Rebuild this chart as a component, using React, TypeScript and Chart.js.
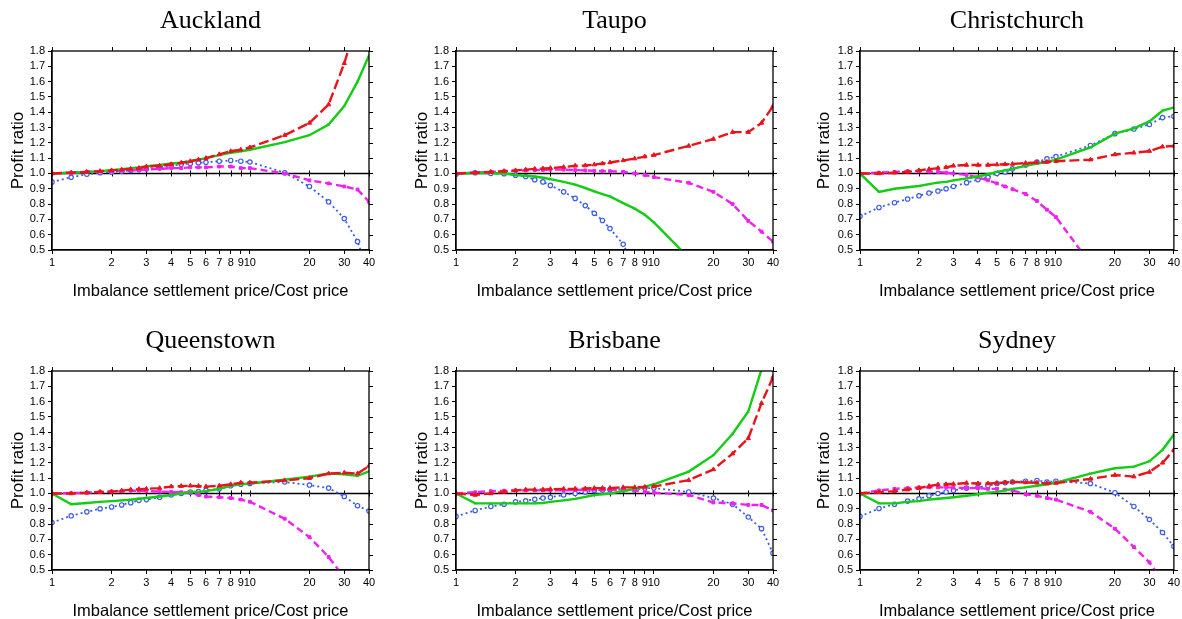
import React, { useEffect, useRef } from 'react';
import { Chart, registerables } from 'chart.js';
Chart.register(...registerables);

const xValues = [1, 1.25, 1.5, 1.75, 2, 2.25, 2.5, 2.75, 3, 3.5, 4, 4.5, 5, 5.5, 6, 7, 8, 9, 10, 15, 20, 25, 30, 35, 40];
const xTickValues = [1, 2, 3, 4, 5, 6, 7, 8, 9, 10, 20, 30, 40];
const yTickValues = [0.5, 0.6, 0.7, 0.8, 0.9, 1.0, 1.1, 1.2, 1.3, 1.4, 1.5, 1.6, 1.7, 1.8];
const cityNames = ['Auckland', 'Taupo', 'Christchurch', 'Queenstown', 'Brisbane', 'Sydney'];
const xAxisTitle = 'Imbalance settlement price/Cost price';
const yAxisTitle = 'Profit ratio';

const aucklandRed = [1.0, 1.005, 1.01, 1.015, 1.02, 1.025, 1.03, 1.035, 1.045, 1.05, 1.06, 1.07, 1.08, 1.09, 1.1, 1.125, 1.145, 1.155, 1.17, 1.25, 1.33, 1.45, 1.72, 2.0, null];
const aucklandGreen = [1.0, 1.005, 1.01, 1.015, 1.022, 1.028, 1.035, 1.04, 1.048, 1.055, 1.065, 1.07, 1.08, 1.09, 1.1, 1.12, 1.135, 1.145, 1.155, 1.205, 1.25, 1.32, 1.44, 1.6, 1.77];
const aucklandMagenta = [1.0, 1.005, 1.01, 1.012, 1.015, 1.018, 1.02, 1.022, 1.025, 1.03, 1.035, 1.035, 1.04, 1.04, 1.04, 1.045, 1.045, 1.035, 1.035, 1.0, 0.955, 0.935, 0.915, 0.895, 0.815];
const aucklandBlue = [0.945, 0.975, 0.995, 1.005, 1.01, 1.015, 1.02, 1.025, 1.03, 1.04, 1.05, 1.06, 1.065, 1.07, 1.073, 1.08, 1.085, 1.08, 1.075, 1.005, 0.915, 0.815, 0.705, 0.555, 0.35];

const taupoRed = [1.0, 1.005, 1.01, 1.015, 1.02, 1.025, 1.03, 1.032, 1.035, 1.042, 1.05, 1.052, 1.058, 1.065, 1.072, 1.085, 1.097, 1.11, 1.12, 1.18, 1.225, 1.27, 1.27, 1.33, 1.44];
const taupoGreen = [1.0, 1.003, 1.003, 1.0, 0.99, 0.985, 0.98, 0.972, 0.963, 0.945, 0.927, 0.905, 0.883, 0.865, 0.85, 0.806, 0.77, 0.73, 0.68, 0.45, null, null, null, null, null];
const taupoMagenta = [1.0, 1.005, 1.01, 1.015, 1.018, 1.02, 1.022, 1.023, 1.025, 1.025, 1.022, 1.02, 1.017, 1.015, 1.015, 1.01, 1.0, 0.99, 0.976, 0.939, 0.88, 0.8, 0.69, 0.62, 0.555];
const taupoBlue = [0.995, 1.005, 1.0, 0.998, 0.989, 0.98, 0.959, 0.945, 0.922, 0.88, 0.837, 0.79, 0.74, 0.693, 0.64, 0.537, 0.38, null, null, null, null, null, null, null, null];

const christchurchRed = [1.0, 1.0, 1.005, 1.01, 1.02, 1.028, 1.035, 1.04, 1.05, 1.055, 1.055, 1.055, 1.058, 1.06, 1.062, 1.068, 1.072, 1.075, 1.08, 1.09, 1.124, 1.135, 1.146, 1.175, 1.18];
const christchurchGreen = [1.0, 0.88, 0.9, 0.91, 0.918, 0.93, 0.94, 0.945, 0.955, 0.968, 0.98, 0.995, 1.01, 1.02, 1.03, 1.05, 1.065, 1.075, 1.09, 1.17, 1.26, 1.295, 1.34, 1.41, 1.43];
const christchurchMagenta = [1.0, 1.005, 1.01, 1.015, 1.015, 1.012, 1.01, 1.005, 1.0, 0.99, 0.975, 0.955, 0.935, 0.915, 0.897, 0.866, 0.82, 0.763, 0.715, 0.41, null, null, null, null, null];
const christchurchBlue = [0.72, 0.778, 0.809, 0.833, 0.854, 0.872, 0.885, 0.9, 0.915, 0.94, 0.96, 0.975, 1.0, 1.01, 1.03, 1.055, 1.075, 1.095, 1.11, 1.183, 1.26, 1.29, 1.32, 1.365, 1.374];

const queenstownRed = [1.0, 1.0, 1.005, 1.01, 1.012, 1.018, 1.025, 1.028, 1.03, 1.035, 1.045, 1.048, 1.05, 1.048, 1.045, 1.05, 1.06, 1.07, 1.07, 1.085, 1.1, 1.13, 1.135, 1.13, 1.18];
const queenstownGreen = [1.0, 0.93, 0.938, 0.945, 0.95, 0.955, 0.96, 0.965, 0.97, 0.98, 0.99, 1.0, 1.01, 1.01, 1.015, 1.03, 1.05, 1.06, 1.065, 1.09, 1.11, 1.13, 1.125, 1.115, 1.145];
const queenstownMagenta = [1.0, 1.002, 1.005, 1.01, 1.012, 1.015, 1.018, 1.018, 1.015, 1.012, 1.01, 1.008, 1.005, 0.99, 0.98, 0.975, 0.97, 0.96, 0.946, 0.835, 0.715, 0.585, 0.45, null, null];
const queenstownBlue = [0.81, 0.854, 0.88, 0.9, 0.912, 0.925, 0.94, 0.955, 0.96, 0.975, 0.99, 1.0, 1.01, 1.012, 1.02, 1.03, 1.05, 1.06, 1.065, 1.075, 1.055, 1.035, 0.98, 0.92, 0.885];

const brisbaneRed = [1.0, 0.99, 1.0, 1.01, 1.02, 1.025, 1.025, 1.025, 1.028, 1.03, 1.03, 1.032, 1.035, 1.035, 1.035, 1.04, 1.04, 1.042, 1.045, 1.087, 1.157, 1.26, 1.36, 1.59, 1.76];
const brisbaneGreen = [1.0, 0.935, 0.935, 0.935, 0.935, 0.935, 0.935, 0.938, 0.945, 0.955, 0.965, 0.978, 0.99, 0.995, 1.0, 1.015, 1.03, 1.045, 1.06, 1.143, 1.25, 1.39, 1.535, 1.81, null];
const brisbaneMagenta = [1.0, 1.008, 1.015, 1.018, 1.02, 1.02, 1.02, 1.02, 1.02, 1.02, 1.022, 1.025, 1.025, 1.025, 1.025, 1.02, 1.02, 1.01, 1.005, 0.99, 0.941, 0.935, 0.925, 0.925, 0.89];
const brisbaneBlue = [0.85, 0.889, 0.915, 0.93, 0.945, 0.952, 0.962, 0.97, 0.975, 0.99, 1.0, 1.01, 1.02, 1.022, 1.025, 1.025, 1.025, 1.035, 1.035, 1.01, 0.97, 0.93, 0.846, 0.77, 0.61];

const sydneyRed = [1.0, 1.008, 1.015, 1.025, 1.035, 1.048, 1.058, 1.06, 1.062, 1.068, 1.065, 1.065, 1.068, 1.072, 1.075, 1.072, 1.07, 1.065, 1.068, 1.095, 1.12, 1.11, 1.14, 1.2, 1.285];
const sydneyGreen = [1.0, 0.935, 0.935, 0.945, 0.95, 0.96, 0.965, 0.97, 0.975, 0.985, 0.995, 1.005, 1.01, 1.02, 1.03, 1.04, 1.05, 1.06, 1.07, 1.13, 1.165, 1.175, 1.21, 1.285, 1.385];
const sydneyMagenta = [1.0, 1.02, 1.03, 1.035, 1.04, 1.04, 1.04, 1.04, 1.038, 1.035, 1.035, 1.03, 1.03, 1.025, 1.02, 0.995, 0.985, 0.97, 0.96, 0.88, 0.77, 0.65, 0.55, 0.43, null];
const sydneyBlue = [0.85, 0.902, 0.93, 0.95, 0.965, 0.985, 1.0, 1.01, 1.02, 1.035, 1.04, 1.05, 1.065, 1.07, 1.075, 1.08, 1.085, 1.075, 1.08, 1.065, 1.005, 0.915, 0.83, 0.745, 0.655];

const citySeries = [
  [aucklandRed, aucklandGreen, aucklandMagenta, aucklandBlue],
  [taupoRed, taupoGreen, taupoMagenta, taupoBlue],
  [christchurchRed, christchurchGreen, christchurchMagenta, christchurchBlue],
  [queenstownRed, queenstownGreen, queenstownMagenta, queenstownBlue],
  [brisbaneRed, brisbaneGreen, brisbaneMagenta, brisbaneBlue],
  [sydneyRed, sydneyGreen, sydneyMagenta, sydneyBlue],
];

const RED = '#e8141c';
const GREEN = '#14cc14';
const MAGENTA = '#f020f0';
const BLUE = '#3c5ce6';
const SANS = '"Liberation Sans", Arial, sans-serif';
const SERIF = '"Liberation Serif", "Times New Roman", serif';

const toPts = (arr: (number | null)[]) => xValues.map((x, i) => ({ x, y: arr[i] }));

const framePlugin = {
  id: 'frame',
  beforeDatasetsDraw(chart: any) {
    const { ctx, chartArea: a, scales } = chart;
    const y1 = scales.y.getPixelForValue(1.0);
    ctx.save();
    ctx.strokeStyle = '#000';
    ctx.lineWidth = 1.6;
    ctx.beginPath();
    ctx.moveTo(a.left, y1);
    ctx.lineTo(a.right, y1);
    ctx.stroke();
    ctx.lineWidth = 1;
    ctx.beginPath();
    xTickValues.forEach((v) => {
      const x = Math.round(scales.x.getPixelForValue(v)) + 0.5;
      ctx.moveTo(x, y1 - 3);
      ctx.lineTo(x, y1 + 3);
    });
    ctx.stroke();
    ctx.restore();
  },
  afterDraw(chart: any, _args: any, opts: any) {
    const { ctx, chartArea: a, scales } = chart;
    ctx.save();
    ctx.strokeStyle = '#000';
    ctx.lineWidth = 1.3;
    ctx.strokeRect(a.left, a.top, a.right - a.left, a.bottom - a.top);
    ctx.lineWidth = 1;
    ctx.beginPath();
    xTickValues.forEach((v) => {
      const x = Math.round(scales.x.getPixelForValue(v)) + 0.5;
      ctx.moveTo(x, a.top);
      ctx.lineTo(x, a.top - 4);
    });
    yTickValues.forEach((v) => {
      const y = Math.round(scales.y.getPixelForValue(v)) + 0.5;
      ctx.moveTo(a.right, y);
      ctx.lineTo(a.right + 4, y);
    });
    ctx.stroke();
    const cx = (a.left + a.right) / 2;
    ctx.fillStyle = '#000';
    ctx.textAlign = 'center';
    ctx.textBaseline = 'middle';
    ctx.font = `26px ${SERIF}`;
    ctx.fillText(opts.title, cx, a.top - 30);
    ctx.font = `16.5px ${SANS}`;
    ctx.fillText(xAxisTitle, cx, a.bottom + 41);
    ctx.translate(a.left - opts.yTitleOffset, (a.top + a.bottom) / 2);
    ctx.rotate(-Math.PI / 2);
    ctx.font = `17px ${SANS}`;
    ctx.fillText(yAxisTitle, 0, 0);
    ctx.restore();
  },
};

type PanelProps = { idx: number };

function Panel({ idx }: PanelProps) {
  const ref = useRef<HTMLCanvasElement | null>(null);
  const col = idx % 3;
  const row = Math.floor(idx / 3);
  const width = 394;
  const height = row === 0 ? 310 : 309;
  const left = col * 394;
  const top = row * 310;
  const yAxisWidth = [52, 62, 72][col];
  const padRight = [25, 15, 4][col];
  const padTop = row === 0 ? 51 : 61;
  const xAxisHeight = row === 0 ? 60 : 49;
  const yTitleOffset = [34, 34, 36][col];

  useEffect(() => {
    if (!ref.current) return;
    const [red, green, magenta, blue] = citySeries[idx];
    const chart = new Chart(ref.current, {
      type: 'line',
      data: {
        datasets: [
          {
            data: toPts(red),
            borderColor: RED,
            backgroundColor: RED,
            borderWidth: 2.4,
            borderDash: [10, 4],
            pointStyle: 'triangle',
            pointRadius: 2.5,
            pointBorderWidth: 1,
            tension: 0,
          },
          {
            data: toPts(green),
            borderColor: GREEN,
            backgroundColor: GREEN,
            borderWidth: 2.4,
            pointStyle: 'crossRot',
            pointRadius: 1.5,
            pointBorderWidth: 1,
            tension: 0,
          },
          {
            data: toPts(magenta),
            borderColor: MAGENTA,
            backgroundColor: MAGENTA,
            borderWidth: 2.4,
            borderDash: [7, 4],
            pointStyle: 'rect',
            pointRadius: 2,
            pointBorderWidth: 1,
            tension: 0,
          },
          {
            data: toPts(blue),
            borderColor: BLUE,
            backgroundColor: '#ffffff',
            borderWidth: 1.8,
            borderDash: [2, 3],
            pointStyle: 'circle',
            pointRadius: 2.2,
            pointBorderWidth: 1.2,
            tension: 0,
          },
        ],
      } as any,
      options: {
        responsive: false,
        animation: false,
        devicePixelRatio: 1,
        layout: {
          autoPadding: false,
          padding: { left: 0, right: padRight, top: padTop, bottom: 0 },
        },
        plugins: {
          legend: { display: false },
          tooltip: { enabled: false },
          title: { display: false },
          frame: { title: cityNames[idx], yTitleOffset },
        } as any,
        scales: {
          x: {
            type: 'logarithmic',
            min: 1,
            max: 40,
            afterBuildTicks: (s: any) => {
              s.ticks = xTickValues.map((v) => ({ value: v }));
            },
            afterFit: (s: any) => {
              s.height = xAxisHeight;
            },
            ticks: {
              autoSkip: false,
              maxRotation: 0,
              minRotation: 0,
              padding: 2,
              color: '#000',
              font: { family: SANS, size: 11 },
              callback: (v: any) => String(v),
            },
            grid: { drawOnChartArea: false, drawTicks: true, tickLength: 4, color: '#000' },
            border: { display: true, color: '#000', width: 1.3 },
          },
          y: {
            type: 'linear',
            min: 0.5,
            max: 1.8,
            afterBuildTicks: (s: any) => {
              s.ticks = yTickValues.map((v) => ({ value: v }));
            },
            afterFit: (s: any) => {
              s.width = yAxisWidth;
            },
            ticks: {
              autoSkip: false,
              padding: 3,
              color: '#000',
              font: { family: SANS, size: 11 },
              callback: (v: any) => Number(v).toFixed(1),
            },
            grid: { drawOnChartArea: false, drawTicks: true, tickLength: 4, color: '#000' },
            border: { display: true, color: '#000', width: 1.3 },
          },
        },
      } as any,
      plugins: [framePlugin as any],
    });
    return () => chart.destroy();
  }, [idx]);

  return (
    <canvas
      ref={ref}
      width={width}
      height={height}
      style={{ position: 'absolute', left, top, width, height, display: 'block' }}
    />
  );
}

export default function App() {
  return (
    <div
      style={{
        position: 'absolute',
        left: 0,
        top: 0,
        width: 1182,
        height: 619,
        background: '#fff',
        overflow: 'hidden',
      }}
    >
      {cityNames.map((_, i) => (
        <Panel key={i} idx={i} />
      ))}
    </div>
  );
}
